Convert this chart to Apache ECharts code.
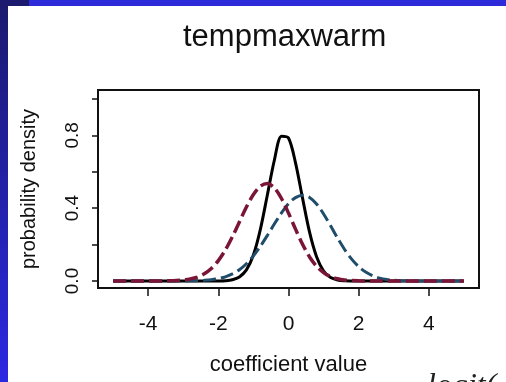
<!DOCTYPE html>
<html>
<head>
<meta charset="utf-8">
<script src="https://cdn.jsdelivr.net/npm/echarts@6/dist/echarts.min.js"></script>
<style>
  html, body { margin: 0; padding: 0; background: #fff; }
  #chart { width: 506px; height: 382px; }
</style>
</head>
<body>
<div id="chart"></div>
<script>
// x grid of the density curves (coefficient value)
const xs = [
  -5.0, -4.8, -4.6, -4.4, -4.2, -4.0, -3.8, -3.6, -3.4, -3.2,
  -3.0, -2.8, -2.6, -2.4, -2.2, -2.0, -1.8, -1.6, -1.4, -1.2,
  -1.0, -0.8, -0.6, -0.4, -0.2, 0.0, 0.2, 0.4, 0.6, 0.8,
  1.0, 1.2, 1.4, 1.6, 1.8, 2.0, 2.2, 2.4, 2.6, 2.8,
  3.0, 3.2, 3.4, 3.6, 3.8, 4.0, 4.2, 4.4, 4.6, 4.8, 5.0
];

// solid black curve
const blackDensity = [
  0, 0, 0, 0, 0, 0, 0, 0, 0, 0,
  0, 0, 0, 0, 0, 0.0003, 0.0016, 0.0065, 0.022, 0.061,
  0.143, 0.285, 0.475, 0.666, 0.795, 0.785, 0.649, 0.455, 0.268, 0.133,
  0.055, 0.019, 0.0057, 0.0014, 0.0003, 0, 0, 0, 0, 0,
  0, 0, 0, 0, 0, 0, 0, 0, 0, 0, 0
];

// dashed maroon curve
const redDensity = [
  0, 0, 0, 0, 0, 0, 0, 0.0004, 0.0009, 0.0023,
  0.0051, 0.011, 0.021, 0.040, 0.069, 0.112, 0.170, 0.243, 0.324, 0.406,
  0.475, 0.521, 0.535, 0.511, 0.453, 0.373, 0.285, 0.202, 0.132, 0.081,
  0.046, 0.024, 0.012, 0.0053, 0.0022, 0.0009, 0.0003, 0, 0, 0,
  0, 0, 0, 0, 0, 0, 0, 0, 0, 0, 0
];

// dashed teal curve
const blueDensity = [
  0, 0, 0, 0, 0, 0, 0, 0, 0, 0,
  0.0004, 0.0008, 0.0018, 0.0036, 0.007, 0.013, 0.023, 0.039, 0.062, 0.095,
  0.138, 0.191, 0.251, 0.314, 0.374, 0.425, 0.458, 0.471, 0.459, 0.423,
  0.368, 0.303, 0.235, 0.173, 0.120, 0.079, 0.049, 0.029, 0.016, 0.0082,
  0.0041, 0.0019, 0.0008, 0.0003, 0, 0, 0, 0, 0, 0, 0
];

const xTicks = [-4, -2, 0, 2, 4];
const yTicks = [0, 0.2, 0.4, 0.6, 0.8, 1.0];
const yLabels = [0, 0.4, 0.8];

const FONT = "'Liberation Sans', Arial, sans-serif";
const INK = "#111";

const pairs = (ys) => xs.map((x, i) => [x, ys[i]]);

const chart = echarts.init(document.getElementById("chart"), null, { renderer: "canvas" });

chart.setOption({
  animation: false,
  backgroundColor: "#fff",
  title: {
    text: "tempmaxwarm",
    left: 183,
    top: 22,
    padding: 0,
    textStyle: { fontFamily: FONT, fontSize: 31, fontWeight: "normal", color: INK }
  },
  graphic: [
    {
      type: "rect",
      z: -10,
      shape: { x: 0, y: 0, width: 8, height: 382 },
      style: {
        fill: new echarts.graphic.LinearGradient(0, 0, 0, 1, [
          { offset: 0, color: "#1b1a6e" },
          { offset: 1, color: "#2b28e2" }
        ])
      }
    },
    { type: "rect", z: -10, shape: { x: 0, y: 0, width: 29, height: 6 }, style: { fill: "#1b1a6e" } },
    { type: "rect", z: -10, shape: { x: 29, y: 0, width: 477, height: 6 }, style: { fill: "#2d2bd9" } },
    {
      // slide text peeking in at the bottom edge
      type: "text",
      x: 427,
      y: 387,
      z: 10,
      style: {
        text: "logit(",
        fontFamily: "'Liberation Serif', 'Times New Roman', serif",
        fontStyle: "italic",
        fontSize: 32,
        fill: "#222",
        verticalAlign: "middle"
      }
    }
  ],
  grid: {
    left: 98,
    right: 27,
    top: 90,
    bottom: 94,
    show: true,
    borderColor: INK,
    borderWidth: 2,
    backgroundColor: "transparent"
  },
  xAxis: {
    type: "value",
    min: -5.43,
    max: 5.43,
    name: "coefficient value",
    nameLocation: "middle",
    nameGap: 66,
    nameTextStyle: { fontFamily: FONT, fontSize: 22, color: INK },
    axisLine: { show: false, onZero: false },
    splitLine: { show: false },
    axisTick: {
      show: true,
      customValues: xTicks,
      length: 8,
      lineStyle: { color: INK, width: 1.5 }
    },
    axisLabel: {
      customValues: xTicks,
      margin: 26,
      fontFamily: FONT,
      fontSize: 21,
      color: INK
    }
  },
  yAxis: {
    type: "value",
    min: -0.0385,
    max: 1.049,
    name: "probability density",
    nameLocation: "middle",
    nameGap: 59,
    nameTextStyle: { fontFamily: FONT, fontSize: 20, color: INK },
    axisLine: { show: false, onZero: false },
    splitLine: { show: false },
    axisTick: {
      show: true,
      customValues: yTicks,
      length: 6,
      lineStyle: { color: INK, width: 1.5 }
    },
    axisLabel: {
      customValues: yLabels,
      rotate: 90,
      margin: 16,
      fontFamily: FONT,
      fontSize: 19,
      color: INK,
      formatter: (v) => v.toFixed(1)
    }
  },
  series: [
    {
      name: "black",
      type: "line",
      data: pairs(blackDensity),
      showSymbol: false,
      smooth: 0.3,
      lineStyle: { color: "#000", width: 3 },
      z: 2
    },
    {
      name: "teal",
      type: "line",
      data: pairs(blueDensity),
      showSymbol: false,
      smooth: 0.3,
      lineStyle: { color: "#1f4d6b", width: 3, type: [13, 5] },
      z: 3
    },
    {
      name: "maroon",
      type: "line",
      data: pairs(redDensity),
      showSymbol: false,
      smooth: 0.3,
      lineStyle: { color: "#7a1538", width: 3.5, type: [13, 5] },
      z: 4
    }
  ]
});
</script>
</body>
</html>
